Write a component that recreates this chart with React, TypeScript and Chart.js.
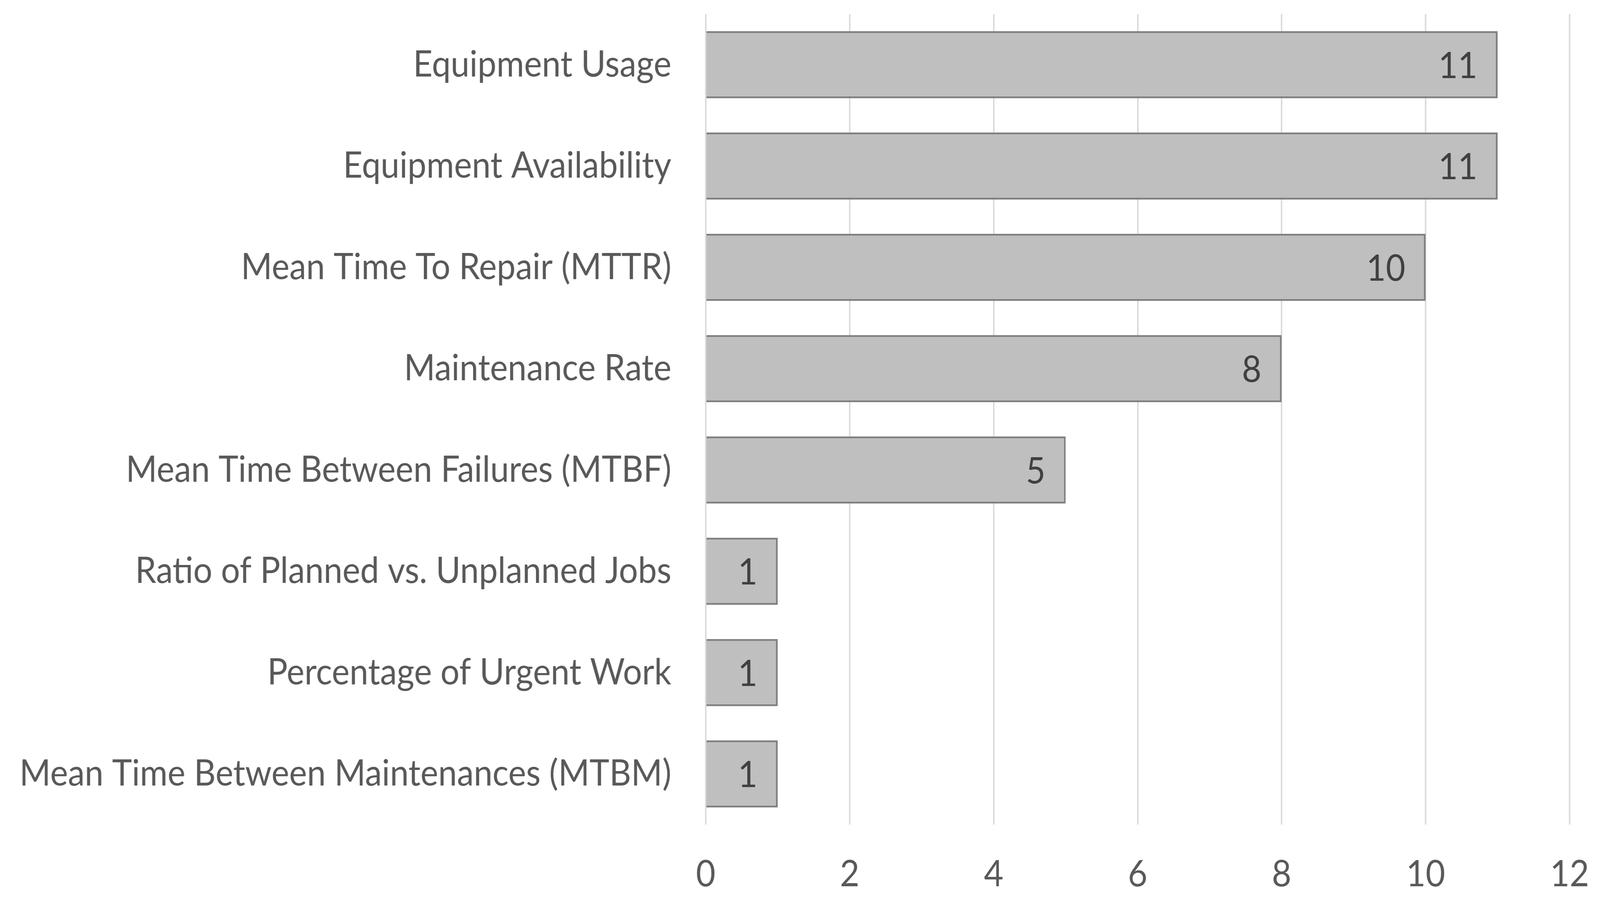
import React, { useEffect, useRef } from "react";
import { Chart, registerables } from "chart.js";

Chart.register(...registerables);

const categories = [
  "Equipment Usage",
  "Equipment Availability",
  "Mean Time To Repair (MTTR)",
  "Maintenance Rate",
  "Mean Time Between Failures (MTBF)",
  "Ratio of Planned vs. Unplanned Jobs",
  "Percentage of Urgent Work",
  "Mean Time Between Maintenances (MTBM)",
];
const counts = [11, 11, 10, 8, 5, 1, 1, 1];
const xTickMin = 0;
const xTickMax = 12;
const xTickStep = 2;

const W = 4421;
const H = 2318;
const FONT = "Lato";
const FONT_SIZE = 93;

const valueLabelPlugin = {
  id: "valueLabels",
  afterDatasetsDraw(chart: any) {
    const ctx = chart.ctx;
    const meta = chart.getDatasetMeta(0);
    ctx.save();
    ctx.font = `${FONT_SIZE}px ${FONT}`;
    ctx.fillStyle = "#404040";
    ctx.textAlign = "right";
    ctx.textBaseline = "middle";
    meta.data.forEach((bar: any, i: number) => {
      const v = chart.data.datasets[0].data[i];
      ctx.fillText(String(v), bar.x - 56, bar.y + 4);
    });
    ctx.restore();
  },
};

export default function App() {
  const ref = useRef<HTMLCanvasElement | null>(null);
  useEffect(() => {
    document.body.style.margin = "0";
    const canvas = ref.current as HTMLCanvasElement;
    const vw = window.innerWidth || W;
    const sx = Math.min(1, vw / W);
    canvas.style.transformOrigin = "0 0";
    canvas.style.transform = `scaleX(${sx})`;
    const chart = new Chart(canvas, {
      type: "bar",
      data: {
        labels: categories,
        datasets: [
          {
            data: counts,
            backgroundColor: "#bfbfbf",
            borderColor: "#7f7f7f",
            borderWidth: 5,
            categoryPercentage: 1,
            barPercentage: 0.663,
          },
        ],
      },
      options: {
        indexAxis: "y",
        animation: false,
        responsive: false,
        devicePixelRatio: 1,
        layout: { padding: { top: 36, right: 84, left: 0, bottom: 0 } },
        plugins: {
          legend: { display: false },
          tooltip: { enabled: false },
        },
        scales: {
          x: {
            min: xTickMin,
            max: xTickMax,
            ticks: {
              stepSize: xTickStep,
              color: "#595959",
              font: { family: FONT, size: FONT_SIZE },
              padding: 72,
            },
            grid: { color: "#d9d9d9", lineWidth: 4, drawTicks: false },
            border: { display: false },
            afterFit: (scale: any) => {
              scale.height = 206;
              scale.paddingLeft = 0;
              scale.paddingRight = 0;
              scale.paddingTop = 0;
              scale.paddingBottom = 0;
            },
          },
          y: {
            ticks: {
              color: "#595959",
              font: { family: FONT, size: FONT_SIZE },
              padding: 95,
            },
            grid: { display: false, drawTicks: false },
            border: { display: false },
            afterFit: (scale: any) => {
              scale.width = 1950;
              scale.paddingLeft = 0;
              scale.paddingRight = 0;
              scale.paddingTop = 0;
              scale.paddingBottom = 0;
            },
          },
        },
      },
      plugins: [valueLabelPlugin],
    });
    return () => chart.destroy();
  }, []);
  return (
    <div style={{ width: "100%", height: H, overflow: "hidden", background: "#fff" }}>
      <canvas ref={ref} width={W} height={H} style={{ display: "block" }} />
    </div>
  );
}
